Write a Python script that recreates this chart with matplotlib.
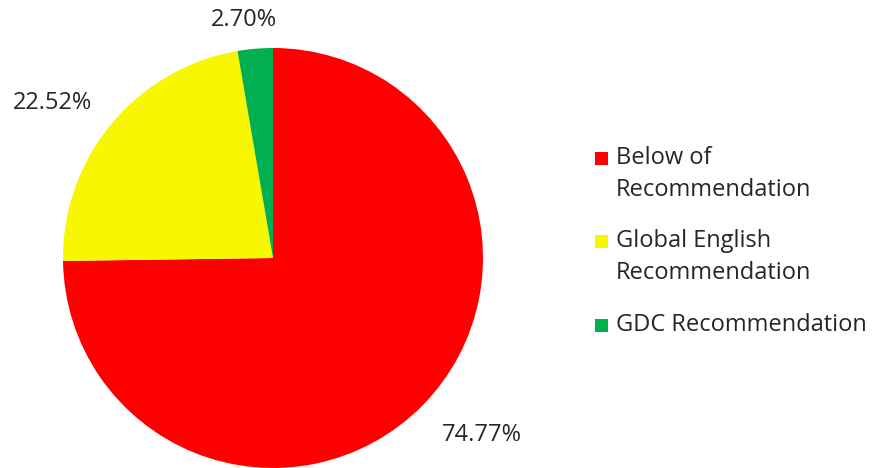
import numpy as np
import matplotlib
matplotlib.use("Agg")
import matplotlib.pyplot as plt
from matplotlib.patches import Rectangle

plt.rcParams['font.family'] = ['Open Sans', 'DejaVu Sans']

# ── Data ─────────────────────────────────────────────────────────────────────
categories = ['Below of\nRecommendation', 'Global English\nRecommendation', 'GDC Recommendation']
shares = [74.77, 22.52, 2.70]
colors = ['#FF0000', '#F7F700', '#00B050']
# label offsets from the pie centre, in radius units
label_off = [(0.995, -0.843), (-1.052, 0.738), (-0.138, 1.133)]

W, H = 874, 468
fig = plt.figure(figsize=(W / 100, H / 100), dpi=100)
ax = fig.add_axes([0, 0, 1, 1])

cx, cy, r = 273, H - 258, 210
wedges, _ = ax.pie(shares, colors=colors, startangle=90, counterclock=False,
                   center=(cx, cy), radius=r, frame=True,
                   wedgeprops=dict(linewidth=0))
ax.set_xlim(0, W)
ax.set_ylim(0, H)
ax.set_aspect('equal')
ax.axis('off')

FS = 17
for val, (dx, dy) in zip(shares, label_off):
    ax.text(cx + dx * r, cy + dy * r, f'{val:.2f}%',
            ha='center', va='center', fontsize=FS, color='#262626')

# ── Legend (drawn by hand to mimic the wrapped Excel style) ──────────────────
leg_y = [158, 241, 325]
for lab, col, y in zip(categories, colors, leg_y):
    ax.add_patch(Rectangle((595, H - y - 7), 13, 13, color=col, lw=0))
    for i, line in enumerate(lab.split('\n')):
        ax.text(616, H - y - 32 * i, line, ha='left', va='center',
                fontsize=FS, color='#262626')

fig.savefig('out.png', dpi=100)
